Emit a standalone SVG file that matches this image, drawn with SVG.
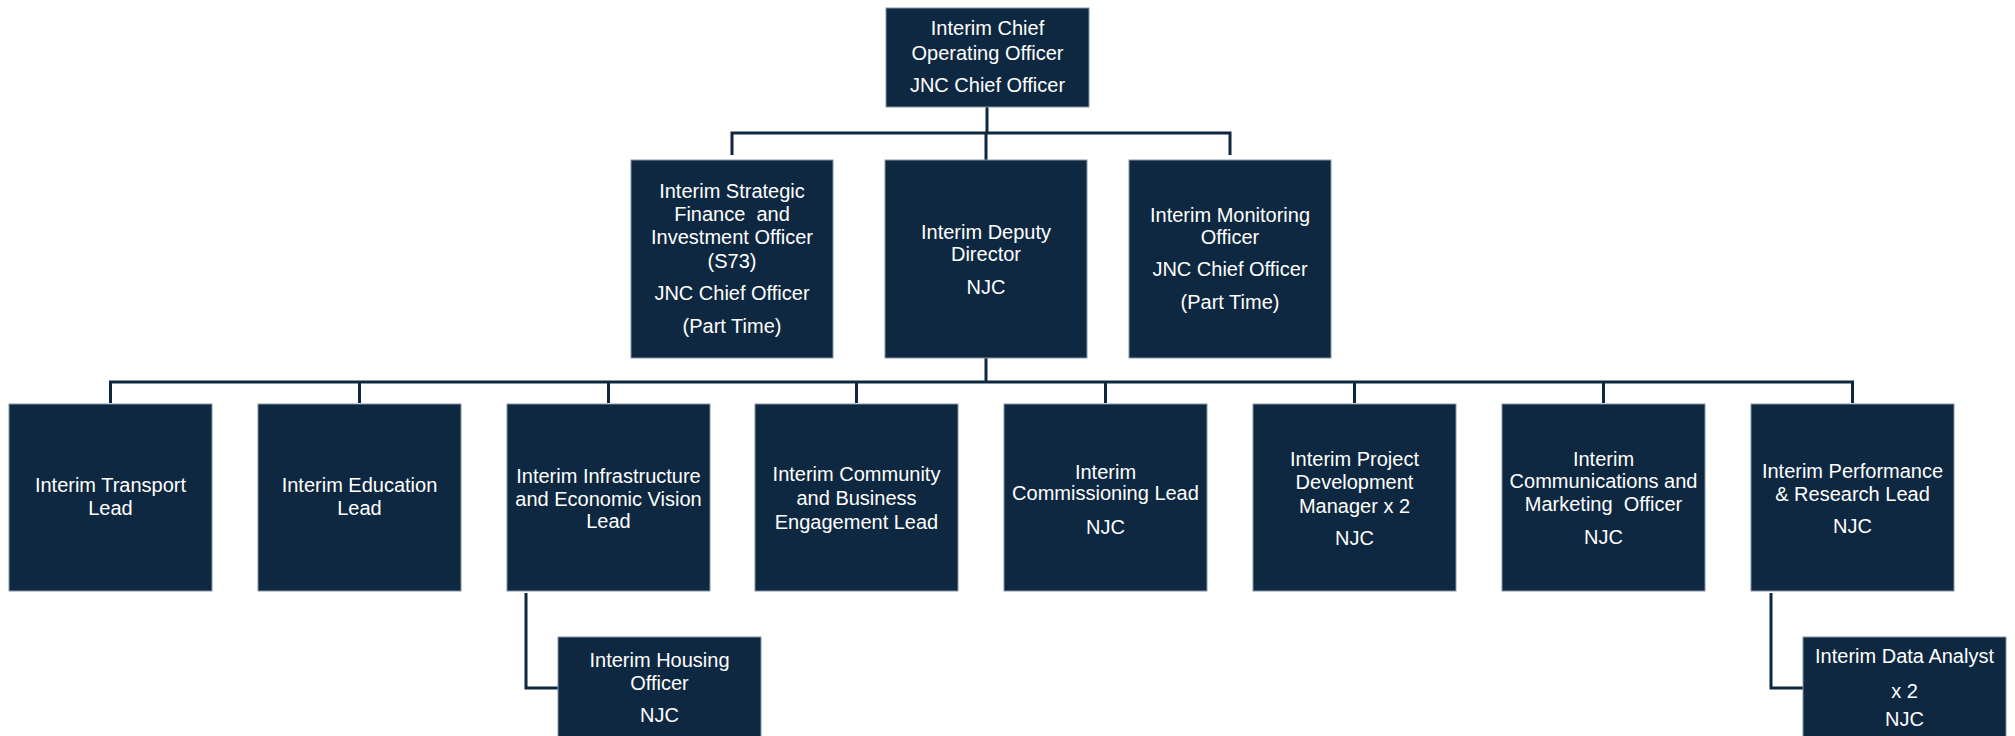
<svg xmlns="http://www.w3.org/2000/svg" width="2015" height="736" viewBox="0 0 2015 736">
  <style>
    .box { fill: #0E2841; stroke: #8593a6; stroke-width: 1; }
    .lbl { fill: #ffffff; font-family: "Liberation Sans", Arial, sans-serif; font-size: 20px; text-anchor: middle; white-space: pre; }
    .wire { fill: none; stroke: #0E2841; stroke-width: 3; }
  </style>
  <rect width="2015" height="736" fill="#ffffff"/>

  <!-- reporting lines -->
  <g id="connectors">
    <path class="wire" d="M987 107 V133"/>
    <path class="wire" d="M732 155 V133 H1230 V155"/>
    <path class="wire" d="M986 133 V160"/>
    <path class="wire" d="M986 358 V382"/>
    <path class="wire" d="M110.5 403 V382 H1852.5 V403"/>
    <path class="wire" d="M359.5 382 V403 M608.5 382 V403 M856.5 382 V403 M1105.5 382 V403 M1354.5 382 V403 M1603.5 382 V403"/>
    <path class="wire" d="M526 593 V688 H558"/>
    <path class="wire" d="M1771 593 V688 H1803"/>
  </g>

  <!-- top tier -->
  <g id="coo">
    <rect class="box" x="886" y="8" width="203" height="99"/>
    <text class="lbl" x="987.5" y="35">Interim Chief</text>
    <text class="lbl" x="987.5" y="60">Operating Officer</text>
    <text class="lbl" x="987.5" y="92">JNC Chief Officer</text>
  </g>

  <!-- second tier -->
  <g id="finance">
    <rect class="box" x="631" y="160" width="202" height="198"/>
    <text class="lbl" x="732" y="198">Interim Strategic</text>
    <text class="lbl" x="732" y="221" xml:space="preserve">Finance  and</text>
    <text class="lbl" x="732" y="244">Investment Officer</text>
    <text class="lbl" x="732" y="268">(S73)</text>
    <text class="lbl" x="732" y="300">JNC Chief Officer</text>
    <text class="lbl" x="732" y="333">(Part Time)</text>
  </g>
  <g id="deputy">
    <rect class="box" x="885" y="160" width="202" height="198"/>
    <text class="lbl" x="986" y="239">Interim Deputy</text>
    <text class="lbl" x="986" y="261">Director</text>
    <text class="lbl" x="986" y="294">NJC</text>
  </g>
  <g id="monitoring">
    <rect class="box" x="1129" y="160" width="202" height="198"/>
    <text class="lbl" x="1230" y="222">Interim Monitoring</text>
    <text class="lbl" x="1230" y="244">Officer</text>
    <text class="lbl" x="1230" y="276">JNC Chief Officer</text>
    <text class="lbl" x="1230" y="309">(Part Time)</text>
  </g>

  <!-- third tier -->
  <g id="transport">
    <rect class="box" x="9" y="404" width="203" height="187"/>
    <text class="lbl" x="110.5" y="492">Interim Transport</text>
    <text class="lbl" x="110.5" y="515">Lead</text>
  </g>
  <g id="education">
    <rect class="box" x="258" y="404" width="203" height="187"/>
    <text class="lbl" x="359.5" y="492">Interim Education</text>
    <text class="lbl" x="359.5" y="515">Lead</text>
  </g>
  <g id="infrastructure">
    <rect class="box" x="507" y="404" width="203" height="187"/>
    <text class="lbl" x="608.5" y="483">Interim Infrastructure</text>
    <text class="lbl" x="608.5" y="506">and Economic Vision</text>
    <text class="lbl" x="608.5" y="528">Lead</text>
  </g>
  <g id="community">
    <rect class="box" x="755" y="404" width="203" height="187"/>
    <text class="lbl" x="856.5" y="481">Interim Community</text>
    <text class="lbl" x="856.5" y="505">and Business</text>
    <text class="lbl" x="856.5" y="529">Engagement Lead</text>
  </g>
  <g id="commissioning">
    <rect class="box" x="1004" y="404" width="203" height="187"/>
    <text class="lbl" x="1105.5" y="479">Interim</text>
    <text class="lbl" x="1105.5" y="500">Commissioning Lead</text>
    <text class="lbl" x="1105.5" y="534">NJC</text>
  </g>
  <g id="project-dev">
    <rect class="box" x="1253" y="404" width="203" height="187"/>
    <text class="lbl" x="1354.5" y="466">Interim Project</text>
    <text class="lbl" x="1354.5" y="489">Development</text>
    <text class="lbl" x="1354.5" y="513">Manager x 2</text>
    <text class="lbl" x="1354.5" y="545">NJC</text>
  </g>
  <g id="comms">
    <rect class="box" x="1502" y="404" width="203" height="187"/>
    <text class="lbl" x="1603.5" y="466">Interim</text>
    <text class="lbl" x="1603.5" y="488">Communications and</text>
    <text class="lbl" x="1603.5" y="511" xml:space="preserve">Marketing  Officer</text>
    <text class="lbl" x="1603.5" y="544">NJC</text>
  </g>
  <g id="performance">
    <rect class="box" x="1751" y="404" width="203" height="187"/>
    <text class="lbl" x="1852.5" y="478">Interim Performance</text>
    <text class="lbl" x="1852.5" y="501">&amp; Research Lead</text>
    <text class="lbl" x="1852.5" y="533">NJC</text>
  </g>

  <!-- fourth tier -->
  <g id="housing">
    <rect class="box" x="558" y="637" width="203" height="110"/>
    <text class="lbl" x="659.5" y="667">Interim Housing</text>
    <text class="lbl" x="659.5" y="690">Officer</text>
    <text class="lbl" x="659.5" y="722">NJC</text>
  </g>
  <g id="data-analyst">
    <rect class="box" x="1803" y="637" width="203" height="110"/>
    <text class="lbl" x="1904.5" y="663">Interim Data Analyst</text>
    <text class="lbl" x="1904.5" y="698">x 2</text>
    <text class="lbl" x="1904.5" y="726">NJC</text>
  </g>
</svg>
